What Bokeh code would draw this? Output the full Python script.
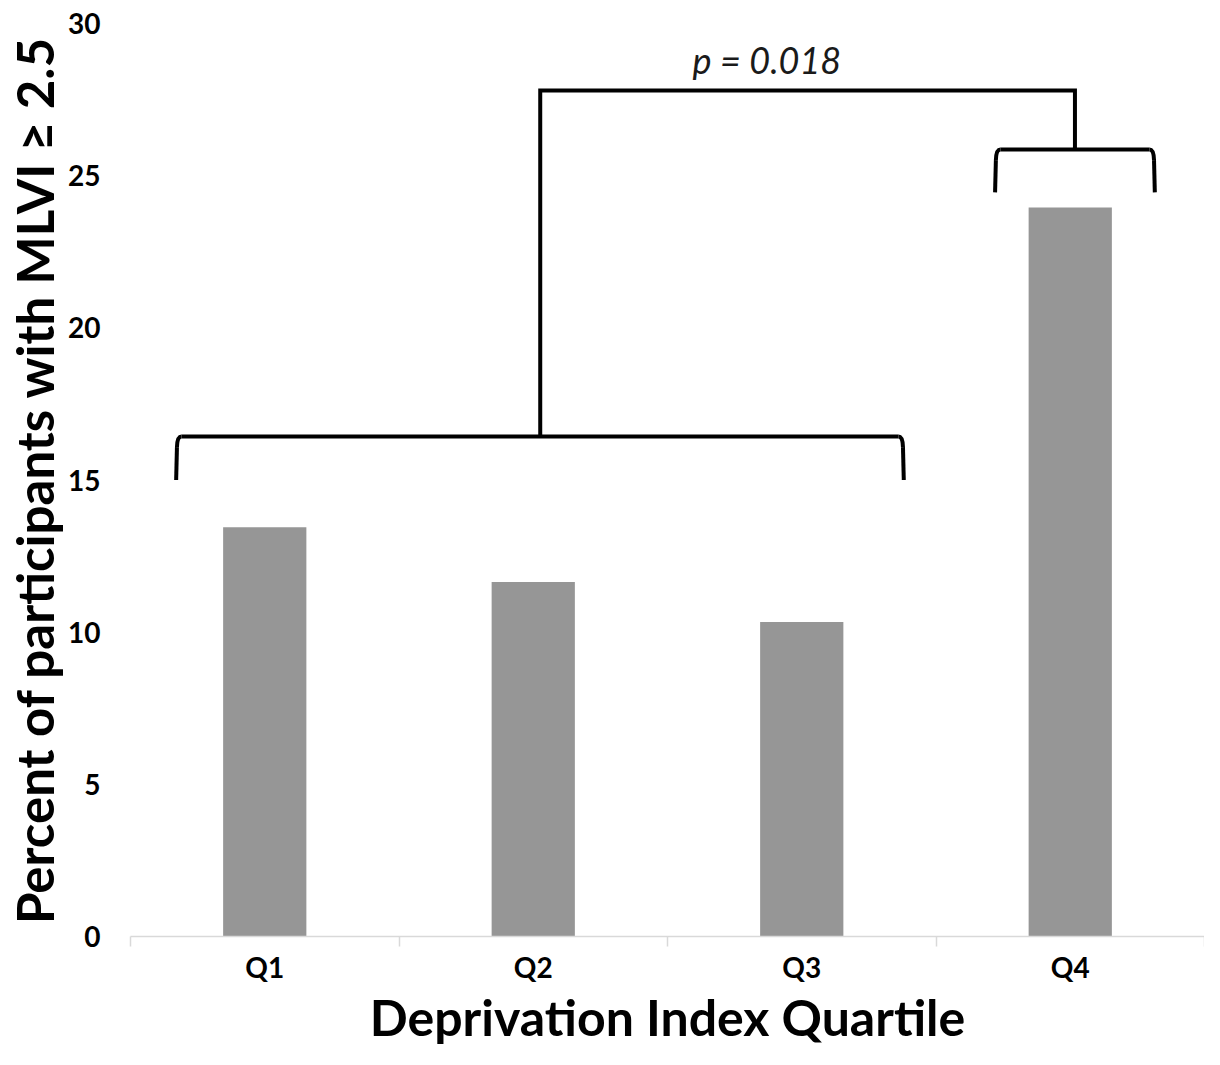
from bokeh.plotting import figure
from bokeh.models import Range1d, FixedTicker, LinearAxis
from bokeh.core.properties import value
from bokeh.embed import file_html
from bokeh.resources import INLINE

# ---- data ----
categories = ["Q1", "Q2", "Q3", "Q4"]
percent_mlvi = [13.45, 11.65, 10.33, 23.95]
y_ticks = [0, 5, 10, 15, 20, 25, 30]
p_label = "p = 0.018"
x_title = "Deprivation Index Quartile"
y_title = "Percent of participants with MLVI \u2265 2.5"

# brackets (annotation): span in category units, bar height, end-drop height
group_a_span = [0.17, 2.88]     # Q1-Q3
group_a_level = 16.43
group_a_end = 15.0
group_b_span = [3.22, 3.815]    # Q4
group_b_level = 25.86
group_b_end = 24.45
link_level = 27.8
group_a_stem = 1.526

FONT = "Lato"

p = figure(width=1204, height=1049, output_backend="svg", toolbar_location=None,
           x_range=Range1d(0, len(categories)), y_range=Range1d(0, 30),
           x_axis_type=None, y_axis_type=None,
           min_border_left=130, min_border_right=0, min_border_top=23, min_border_bottom=113)
p.outline_line_color = None
p.background_fill_color = "white"
p.border_fill_color = "white"
p.xgrid.visible = False
p.ygrid.visible = False

xs = [i + 0.5 for i in range(len(categories))]
p.vbar(x=xs, top=percent_mlvi, width=0.31, bottom=0, color="#969696", line_color=None)

# x axis
xa = LinearAxis(ticker=FixedTicker(ticks=xs, minor_ticks=list(range(len(categories) + 1))))
xa.major_label_overrides = {x: c for x, c in zip(xs, categories)}
xa.axis_line_color = "#d9d9d9"
xa.axis_line_width = 1.5
xa.major_tick_out = 0
xa.major_tick_in = 0
xa.minor_tick_out = 10
xa.minor_tick_in = 0
xa.minor_tick_line_color = "#d9d9d9"
xa.minor_tick_line_width = 1.5
xa.major_label_text_font = FONT
xa.major_label_text_font_style = "bold"
xa.major_label_text_font_size = "28px"
xa.major_label_text_color = "black"
xa.major_label_standoff = 3
xa.axis_label = x_title
xa.axis_label_text_font = FONT
xa.axis_label_text_font_style = "bold"
xa.axis_label_text_font_size = "50px"
xa.axis_label_text_color = "black"
xa.axis_label_standoff = 0
p.add_layout(xa, "below")

# y axis
ya = LinearAxis(ticker=FixedTicker(ticks=y_ticks))
ya.axis_line_color = None
ya.major_tick_line_color = None
ya.minor_tick_line_color = None
ya.major_tick_out = 0
ya.major_tick_in = 0
ya.major_label_text_font = FONT
ya.major_label_text_font_style = "bold"
ya.major_label_text_font_size = "28px"
ya.major_label_text_color = "black"
ya.major_label_standoff = 30
ya.axis_label = y_title
ya.axis_label_text_font = FONT
ya.axis_label_text_font_style = "bold"
ya.axis_label_text_font_size = "51px"
ya.axis_label_text_color = "black"
ya.axis_label_standoff = 0
p.add_layout(ya, "left")

# brackets
LW = 4
def bracket(x0, x1, lvl, end):
    r = 0.02
    dy = 0.35
    p.line([x0 + r, x1 - r], [lvl, lvl], line_color="black", line_width=LW)
    p.quadratic(x0=[x0 + r, x1 - r], y0=[lvl, lvl], x1=[x0 + 0.003, x1 - 0.003], y1=[lvl - dy, lvl - dy],
                cx=[x0 + 0.004, x1 - 0.004], cy=[lvl, lvl], line_color="black", line_width=LW)
    p.line([x0 + 0.003, x0], [lvl - dy, end], line_color="black", line_width=LW)
    p.line([x1 - 0.003, x1], [lvl - dy, end], line_color="black", line_width=LW)

bracket(group_a_span[0], group_a_span[1], group_a_level, group_a_end)
bracket(group_b_span[0], group_b_span[1], group_b_level, group_b_end)

mid_b = (group_b_span[0] + group_b_span[1]) / 2
p.line([group_a_stem, group_a_stem, mid_b, mid_b], [group_a_level, link_level, link_level, group_b_level],
       line_color="black", line_width=LW, line_join="miter")

p.text(x=[2.37], y=[link_level + 1.0], text=[p_label],
       text_font=value(FONT), text_font_style="italic", text_font_size="36px",
       text_color="#1a1a1a", text_align="center", text_baseline="middle")

open("out.html", "w").write(file_html(p, INLINE))
